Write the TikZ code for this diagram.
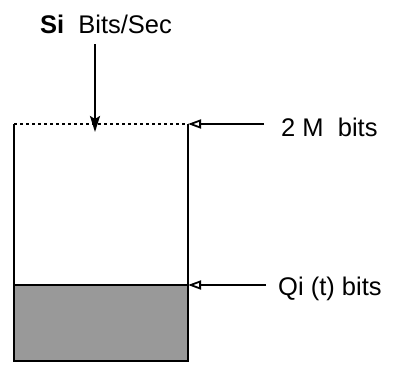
\documentclass[tikz,border=0pt]{standalone}
\usepackage{fontspec}
\setmainfont{Liberation Sans}
\usetikzlibrary{arrows.meta,positioning}
\tikzset{
  lbl/.style={font=\fontsize{25.5}{30}\selectfont, inner sep=0pt},
  wall/.style={line width=2.2pt},
  inarr/.style={-{Stealth[length=16pt,width=10pt,inset=3pt]}, line width=2.2pt},
  markarr/.style={-{Triangle[open,length=13pt,width=9pt]}, line width=1.8pt}
}
\begin{document}
\begin{tikzpicture}[x=1pt,y=-1pt]
  \useasboundingbox (0,0) rectangle (396,364);
  % buffer corners
  \coordinate (tl) at (14,124);
  \coordinate (tr) at (188,124);
  \coordinate (ql) at (14,285);
  \coordinate (qr) at (188,285);
  \coordinate (bl) at (14,361);
  \coordinate (br) at (188,361);
  \fill[black!40] (ql) rectangle (br);
  \draw[wall] (tl) -- (bl) -- (br) -- (tr);
  \draw[wall] (ql) -- (qr);
  \draw[line width=1.6pt, dash pattern=on 3pt off 3pt] (tl) -- (tr);
  % labels
  \node[lbl] (rate) at (106,24) {\textbf{Si}\ \ Bits/Sec};
  \node[lbl, anchor=west] (cap) at (281,127) {2 M\ \ bits};
  \node[lbl, anchor=west] (occ) at (278,289) {Qi (t) bits};
  \coordinate (inflow) at (95,44);
  \coordinate (intop) at (95,132);
  \coordinate (capfrom) at (264,124);
  \coordinate (occfrom) at (266,285);
  % arrows
  \draw[inarr] (inflow) -- (intop);
  \draw[markarr] (capfrom) -- (tr);
  \draw[markarr] (occfrom) -- (qr);
\end{tikzpicture}
\end{document}
